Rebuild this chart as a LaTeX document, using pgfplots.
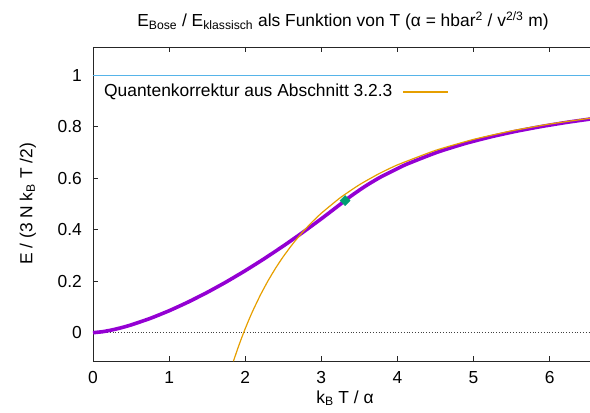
\documentclass[border=0pt]{standalone}
\usepackage{fontspec}
\setmainfont{Liberation Sans}
\usepackage{pgfplots}
\pgfplotsset{compat=1.18}

\definecolor{bosepurple}{HTML}{9400D3}
\definecolor{corrorange}{HTML}{E69F00}
\definecolor{critgreen}{HTML}{009E73}
\definecolor{limitblue}{HTML}{56B4E9}

\begin{document}
\fontsize{17.4}{20}\selectfont
\begin{tikzpicture}
\useasboundingbox (-93pt,-52pt) rectangle (497pt,361pt);
\begin{axis}[
  scale only axis,
  width=497pt, height=314pt,
  xmin=0, xmax=6.53,
  ymin=-0.11, ymax=1.11,
  axis x line*=box,
  axis y line*=left,
  axis line style={black!85, line width=0.8pt},
  tick style={black!85, line width=0.8pt},
  tick align=inside,
  major tick length=5pt,
  xtick={0,1,2,3,4,5,6},
  ytick={0,0.2,0.4,0.6,0.8,1},
  /pgf/number format/assume math mode=true,
  xticklabel style={inner sep=0pt, anchor=north, yshift=-10.5pt},
  yticklabel style={inner sep=0pt, anchor=east, xshift=-11pt},
  every axis x label/.style={at={(axis description cs:0.5,0)}, anchor=center, xshift=3.5pt, yshift=-37pt},
  every axis y label/.style={at={(axis description cs:-0.131,0.5)}, rotate=90, anchor=center},
  every axis title/.style={at={(axis description cs:0.5,1)}, anchor=base, xshift=1.5pt, yshift=20pt},
  title={E\textsubscript{Bose} / E\textsubscript{klassisch} als Funktion von T (α = hbar\textsuperscript{2} / v\textsuperscript{2/3} m)},
  xlabel={k\textsubscript{B} T / α},
  ylabel={E / (3 N k\textsubscript{B} T /2)},
  legend plot pos=right,
  legend cell align=left,
  legend style={at={(axis description cs:0.0221,0.857)}, anchor=west,
    draw=none, fill=none, inner sep=0pt, row sep=0pt,
    nodes={inner sep=0pt}},
  legend image code/.code={\path (0pt,0pt); \draw[#1] (10pt,0pt) -- (55pt,0pt);},
]
% classical limit and zero line
\addplot[forget plot, limitblue, line width=0.9pt] coordinates {(0,1) (6.53,1)};
\addplot[forget plot, black!75, line width=0.7pt, dash pattern=on 0.8pt off 2pt] coordinates {(0,0) (6.53,0)};

% exact ideal Bose gas
\addplot[forget plot, bosepurple, line width=3.6pt, smooth, tension=0.3] coordinates {
  (0,0) (0.125,0.003764) (0.25,0.010647) (0.375,0.01956) (0.5,0.030114)
  (0.75,0.055323) (1.0,0.085176) (1.25,0.119037) (1.5,0.156478)
  (1.75,0.197185) (2.0,0.240914) (2.25,0.287469) (2.5,0.336690)
  (2.75,0.388435) (3.0,0.442588) (3.25,0.499043) (3.3125,0.51351)
  (3.3555,0.52330) (3.4096,0.53521) (3.5357,0.56110) (3.6350,0.57983)
  (3.7834,0.60537) (4.1066,0.65284) (4.5248,0.70138) (4.8909,0.73523)
  (5.2350,0.76157) (5.5686,0.78318) (5.8980,0.80147) (6.2264,0.81728)
  (6.5566,0.83115)
};

% first quantum correction
\addplot[corrorange, line width=1.2pt, smooth, tension=0.3] coordinates {
  (1.845,-0.11097) (1.9,-0.06307) (1.95,-0.02245) (2.0,0.01565)
  (2.05,0.05144) (2.1,0.08512) (2.2,0.14678) (2.3,0.20182)
  (2.4,0.25118) (2.5,0.29566) (2.625,0.34536) (2.75,0.38949)
  (2.875,0.42886) (3.0,0.46419) (3.25,0.52480) (3.5,0.57480)
  (3.75,0.61661) (4.0,0.65198) (4.5,0.70834) (5.0,0.75098)
  (5.5,0.78415) (6.0,0.81056) (6.5,0.83200) (6.55,0.83391)
};
\addlegendentry{Quantenkorrektur aus Abschnitt 3.2.3}

% critical temperature
\addplot[forget plot, only marks, mark=square*, mark size=3.6pt,
  mark options={rotate=45, fill=critgreen, draw=critgreen}] coordinates {(3.3125,0.51351)};
\end{axis}
\end{tikzpicture}
\end{document}
